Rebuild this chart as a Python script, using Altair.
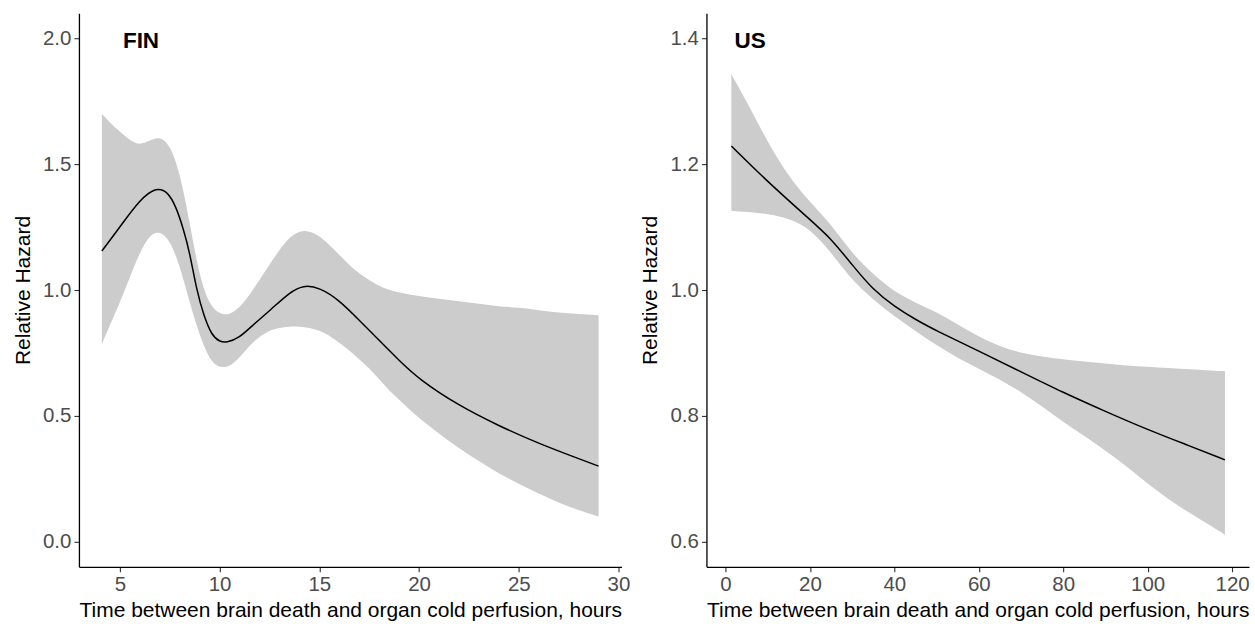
import altair as alt
import pandas as pd

# ---- FIN: fitted relative hazard and its confidence band ----
fin_line_t = [4.1, 5.0, 6.0, 6.85, 7.4, 7.8, 8.2, 8.5, 8.85, 9.2, 9.6, 10.0, 10.35,
              11.0, 11.6, 12.6, 13.5, 14.2, 15.0, 16.0, 17.0, 18.0, 19.0, 20.0,
              22.0, 24.0, 26.0, 28.0, 29.0]
fin_line_hr = [1.155, 1.25, 1.36, 1.41, 1.39, 1.335, 1.24, 1.15, 1.00, 0.90, 0.82, 0.795, 0.79,
               0.81, 0.856, 0.924, 0.99, 1.02, 1.01, 0.96, 0.88, 0.80, 0.72, 0.645,
               0.54, 0.46, 0.39, 0.33, 0.30]

fin_band_t = [4.1, 4.5, 5.0, 5.5, 6.0, 6.5, 7.0, 7.5, 8.0, 8.5, 9.0, 9.5, 10.0, 10.5,
              11.0, 11.5, 12.0, 12.5, 13.0, 13.5, 14.0, 14.5, 15.0, 15.5, 16.0, 16.5,
              17.0, 17.5, 18.0, 18.5, 19.0, 20.0, 21.0, 22.0, 23.0, 24.0, 25.0, 26.0,
              27.0, 28.0, 29.0]
fin_band_lo = [0.785, 0.86, 0.95, 1.05, 1.15, 1.22, 1.235, 1.20, 1.10, 0.95, 0.82, 0.72, 0.69, 0.695,
               0.73, 0.78, 0.815, 0.84, 0.85, 0.855, 0.855, 0.85, 0.84, 0.82, 0.79, 0.76,
               0.725, 0.69, 0.645, 0.60, 0.565, 0.49, 0.43, 0.37, 0.32, 0.27, 0.23, 0.19,
               0.155, 0.125, 0.10]
fin_band_hi = [1.70, 1.665, 1.63, 1.595, 1.575, 1.595, 1.61, 1.58, 1.47, 1.27, 1.05, 0.94, 0.905, 0.90,
               0.93, 0.98, 1.04, 1.10, 1.16, 1.21, 1.235, 1.235, 1.215, 1.18, 1.14, 1.10,
               1.065, 1.04, 1.015, 1.00, 0.99, 0.975, 0.965, 0.955, 0.945, 0.935, 0.93, 0.92,
               0.91, 0.905, 0.90]

# ---- US: fitted relative hazard and its confidence band ----
us_line_t = [1.4, 10, 20, 25, 30, 35, 40, 45, 50, 60, 70, 80, 90, 100, 110, 118.3]
us_line_hr = [1.229, 1.172, 1.112, 1.082, 1.040, 1.000, 0.974, 0.953, 0.935, 0.903,
              0.870, 0.837, 0.807, 0.778, 0.752, 0.730]

us_band_t = [1.4, 5, 10, 15, 20, 25, 30, 35, 40, 45, 50, 55, 60, 65, 70, 75, 80, 85,
             90, 95, 100, 105, 110, 115, 118.3]
us_band_lo = [1.126, 1.124, 1.121, 1.114, 1.098, 1.060, 1.015, 0.985, 0.958, 0.935, 0.912,
              0.892, 0.875, 0.858, 0.838, 0.815, 0.790, 0.768, 0.745, 0.720, 0.692, 0.667,
              0.645, 0.625, 0.611]
us_band_hi = [1.343, 1.300, 1.235, 1.180, 1.140, 1.105, 1.058, 1.025, 0.997, 0.980, 0.965,
              0.945, 0.926, 0.910, 0.900, 0.894, 0.890, 0.886, 0.883, 0.880, 0.878, 0.876,
              0.874, 0.872, 0.871]

FONT = "Liberation Sans"
X_TITLE = "Time between brain death and organ cold perfusion, hours"
Y_TITLE = "Relative Hazard"


def panel(line_t, line_hr, band_t, band_lo, band_hi, x_domain, x_ticks,
          y_domain, y_ticks, label, label_dx):
    line_df = pd.DataFrame({"t": line_t, "hr": line_hr})
    band_df = pd.DataFrame({"t": band_t, "lo": band_lo, "hi": band_hi})
    label_df = pd.DataFrame({"label": [label]})

    x_enc = alt.X(
        "t:Q",
        title=X_TITLE,
        scale=alt.Scale(domain=x_domain, nice=False, zero=False),
        axis=alt.Axis(values=x_ticks, format="d"),
    )
    y_scale = alt.Scale(domain=y_domain, nice=False, zero=False)
    y_axis = alt.Axis(values=y_ticks, format=".1f")

    band = alt.Chart(band_df).mark_area(
        color="#CCCCCC", opacity=1, interpolate="basis"
    ).encode(
        x=x_enc,
        y=alt.Y("lo:Q", title=Y_TITLE, scale=y_scale, axis=y_axis),
        y2="hi:Q",
    )
    line = alt.Chart(line_df).mark_line(
        color="black", strokeWidth=1.5, interpolate="basis"
    ).encode(
        x=x_enc,
        y=alt.Y("hr:Q", title=Y_TITLE, scale=y_scale, axis=y_axis),
    )
    tag = alt.Chart(label_df).mark_text(
        font=FONT, fontSize=22.5, fontWeight="bold", color="black",
        align="left", baseline="alphabetic",
    ).encode(
        x=alt.value(label_dx),
        y=alt.value(35),
        text="label:N",
    )
    return alt.layer(band, line, tag).properties(width=543, height=554)


fin = panel(fin_line_t, fin_line_hr, fin_band_t, fin_band_lo, fin_band_hi,
            [2.95, 30.15], [5, 10, 15, 20, 25, 30],
            [-0.1, 2.1], [0.0, 0.5, 1.0, 1.5, 2.0], "FIN", 44)
us = panel(us_line_t, us_line_hr, us_band_t, us_band_lo, us_band_hi,
           [-4.5, 124.0], [0, 20, 40, 60, 80, 100, 120],
           [0.56, 1.44], [0.6, 0.8, 1.0, 1.2, 1.4], "US", 28)

chart = alt.hconcat(fin, us, spacing=85, bounds="flush").properties(
    padding={"left": 12, "top": 13, "right": 5, "bottom": 5}
).configure_view(
    stroke=None
).configure_axis(
    grid=False,
    domainColor="black",
    domainWidth=1.3,
    tickColor="#333333",
    tickSize=5,
    tickWidth=1.1,
    labelFont=FONT,
    labelFontSize=20.5,
    labelColor="#4D4D4D",
    labelPadding=3,
    titleFont=FONT,
    titleFontSize=21,
    titleFontWeight="normal",
    titleColor="black",
).configure_axisY(
    titlePadding=9,
).configure_axisX(
    titlePadding=4,
)

chart.save("out.html", embed_options={"renderer": "svg", "actions": False})
